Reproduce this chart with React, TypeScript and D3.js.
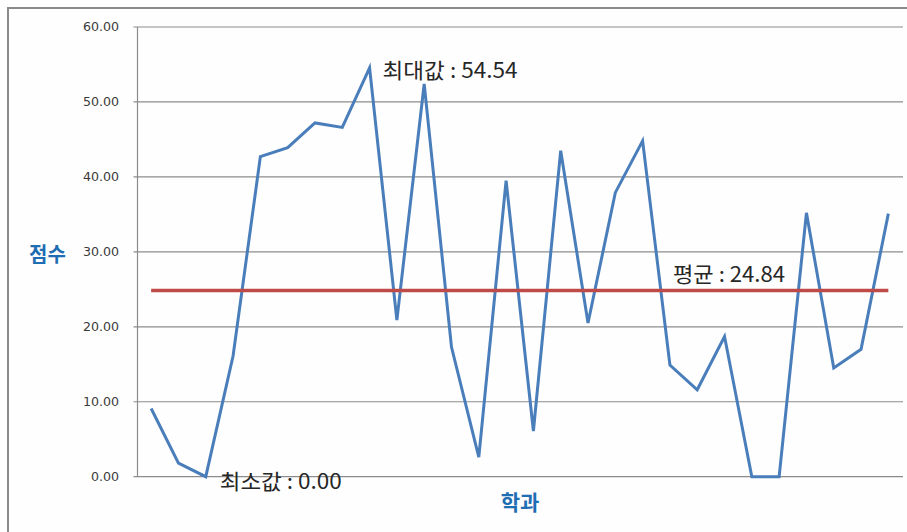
import React from "react";
import * as d3 from "d3";

const departments: string[] = Array.from({ length: 28 }, (_, i) => `학과${i + 1}`);
const scores: number[] = [
  9.1, 1.8, 0.0, 16.1, 42.7, 43.9, 47.2, 46.6, 54.54, 20.9, 52.4, 17.3, 2.6, 39.5,
  6.1, 43.5, 20.5, 37.9, 44.8, 14.9, 11.6, 18.7, 0.0, 0.0, 35.2, 14.5, 17.0, 35.1,
];
const averageValue = 24.84;
const yTicks: number[] = [0, 10, 20, 30, 40, 50, 60];
const maxLabel = "최대값 : 54.54";
const minLabel = "최소값 : 0.00";
const avgLabel = "평균 : 24.84";
const yTitle = "점수";
const xTitle = "학과";

const W = 907;
const H = 532;
const left = 137.5;
const right = 902;
const top = 27;
const bottom = 476.7;

export default function App() {
  const x = d3.scalePoint<string>().domain(departments).range([left, right]).padding(0.5);
  const y = d3.scaleLinear().domain([0, 60]).range([bottom, top]);
  const line = d3
    .line<number>()
    .x((_, i) => x(departments[i]) as number)
    .y((d) => y(d));
  const firstX = x(departments[0]) as number;
  const lastX = x(departments[departments.length - 1]) as number;
  const maxIdx = scores.indexOf(d3.max(scores) as number);
  const minIdx = scores.indexOf(d3.min(scores) as number);
  const korean = "'Noto Sans CJK KR', 'Noto Sans', sans-serif";

  return (
    <svg
      width={W}
      height={H}
      style={{ position: "absolute", left: 0, top: 0, background: "#fefefe" }}
    >
      <rect x={8} y={8} width={940} height={560} fill="#fefefe" stroke="#8a8a8a" strokeWidth={2} />
      {yTicks.map((t) => (
        <g key={t}>
          <line x1={left - 4} x2={right + 1} y1={y(t)} y2={y(t)} stroke="#8c8c8c" strokeWidth={1.2} />
          <text
            x={119}
            y={y(t)}
            dy="0.35em"
            textAnchor="end"
            fontFamily="'DejaVu Sans', sans-serif"
            fontSize={12.6}
            fill="#3a3a3a"
          >
            {t.toFixed(2)}
          </text>
        </g>
      ))}
      <line x1={left} x2={left} y1={top} y2={bottom} stroke="#8c8c8c" strokeWidth={1.2} />
      <path d={line(scores) || ""} fill="none" stroke="#4A7EBB" strokeWidth={3} strokeLinejoin="miter" />
      <line
        x1={firstX}
        x2={lastX}
        y1={y(averageValue)}
        y2={y(averageValue)}
        stroke="#BE4B48"
        strokeWidth={3.5}
      />
      <text
        x={(x(departments[maxIdx]) as number) + 13}
        y={y(scores[maxIdx]) + 10}
        fontFamily={korean}
        fontSize={21}
        textLength={135}
        lengthAdjust="spacingAndGlyphs"
        fill="#262626"
      >
        {maxLabel}
      </text>
      <text
        x={(x(departments[minIdx]) as number) + 14}
        y={y(scores[minIdx]) + 12}
        fontFamily={korean}
        fontSize={21}
        textLength={122}
        lengthAdjust="spacingAndGlyphs"
        fill="#262626"
      >
        {minLabel}
      </text>
      <text
        x={673}
        y={y(averageValue) - 9}
        fontFamily={korean}
        fontSize={21}
        textLength={112}
        lengthAdjust="spacingAndGlyphs"
        fill="#262626"
      >
        {avgLabel}
      </text>
      <text x={47.5} y={255} dy="0.35em" textAnchor="middle" fontFamily={korean} fontWeight="bold" fontSize={20} fill="#1F6DB2">
        {yTitle}
      </text>
      <text x={520} y={503} dy="0.35em" textAnchor="middle" fontFamily={korean} fontWeight="bold" fontSize={21} fill="#1F6DB2">
        {xTitle}
      </text>
    </svg>
  );
}
